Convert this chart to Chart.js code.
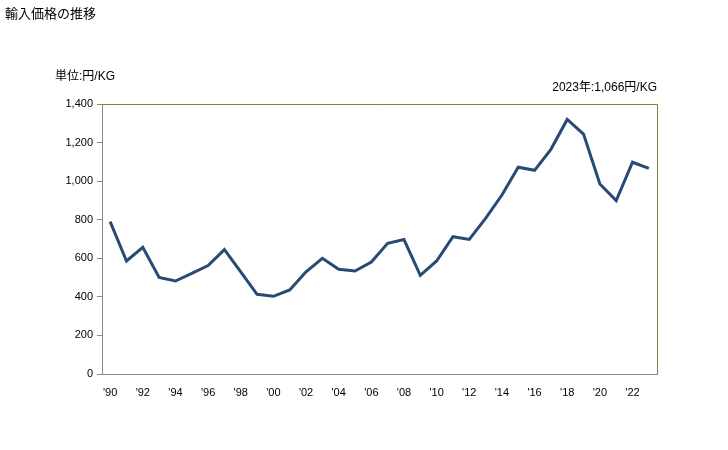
<!DOCTYPE html>
<html>
<head>
<meta charset="utf-8">
<script src="https://cdn.jsdelivr.net/npm/chart.js@4"></script>
<style>
  body { margin: 0; background: #fff; }
  #wrap { position: relative; width: 728px; height: 450px; font-family: "Liberation Sans", "Noto Sans CJK JP", sans-serif; color: #000; }
  #title { position: absolute; left: 5px; top: 3px; font-size: 13px; }
  #unit { position: absolute; left: 55px; top: 66px; font-size: 12px; }
  #note { position: absolute; right: 71px; top: 77px; font-size: 12px; }
  canvas { position: absolute; left: 0; top: 0; }
</style>
</head>
<body>
<div id="wrap">
  <canvas id="priceChart" width="728" height="450"></canvas>
  <div id="title">輸入価格の推移</div>
  <div id="unit">単位:円/KG</div>
  <div id="note">2023年:1,066円/KG</div>
</div>
<script>
// Data
const years = ["'90","'91","'92","'93","'94","'95","'96","'97","'98","'99",
               "'00","'01","'02","'03","'04","'05","'06","'07","'08","'09",
               "'10","'11","'12","'13","'14","'15","'16","'17","'18","'19",
               "'20","'21","'22","'23"];
const prices = [790, 586, 657, 501, 482, 522, 562, 645, 530, 413,
                403, 436, 530, 600, 543, 534, 581, 678, 697, 512,
                586, 712, 698, 807, 928, 1072, 1056, 1165, 1320, 1244,
                985, 899, 1098, 1066];
const yTicks = [0, 200, 400, 600, 800, 1000, 1200, 1400];

const fontFamily = '"Liberation Sans", "Noto Sans CJK JP", sans-serif';

// top and right frame lines in olive
const framePlugin = {
    id: 'frame',
    afterDraw(chart) {
        const a = chart.chartArea;
        const ctx = chart.ctx;
        ctx.save();
        ctx.strokeStyle = '#8c7d3c';
        ctx.lineWidth = 1;
        ctx.beginPath();
        ctx.moveTo(a.left, a.top + 0.5);
        ctx.lineTo(a.right + 0.5, a.top + 0.5);
        ctx.lineTo(a.right + 0.5, a.bottom);
        ctx.stroke();
        ctx.restore();
    }
};

const ctx = document.getElementById('priceChart').getContext('2d');
new Chart(ctx, {
    type: 'line',
    data: {
        labels: years,
        datasets: [{
            data: prices,
            borderColor: '#284a75',
            borderWidth: 3,
            pointRadius: 0,
            tension: 0,
            fill: false
        }]
    },
    options: {
        responsive: false,
        animation: false,
        layout: { padding: { left: 0, top: 104, right: 71, bottom: 0 } },
        plugins: {
            legend: { display: false },
            tooltip: { enabled: false }
        },
        scales: {
            x: {
                offset: true,
                grid: { display: false },
                border: { display: true, color: '#888888', width: 1 },
                ticks: {
                    autoSkip: false,
                    maxRotation: 0,
                    padding: 4,
                    color: '#000',
                    font: { family: fontFamily, size: 11 },
                    callback: function(value, index) {
                        return index % 2 === 0 ? years[index] : '';
                    }
                },
                afterFit: function(scale) { scale.height = 76; }
            },
            y: {
                min: 0,
                max: 1400,
                afterBuildTicks: function(scale) {
                    scale.ticks = yTicks.map(v => ({ value: v }));
                },
                grid: {
                    drawOnChartArea: false,
                    drawTicks: true,
                    tickLength: 5,
                    color: '#888888'
                },
                border: { display: true, color: '#888888', width: 1 },
                ticks: {
                    padding: 4,
                    color: '#000',
                    font: { family: fontFamily, size: 11 },
                    callback: function(value) {
                        return value.toLocaleString('en-US');
                    }
                },
                afterFit: function(scale) { scale.width = 102; }
            }
        }
    },
    plugins: [framePlugin]
});
</script>
</body>
</html>
